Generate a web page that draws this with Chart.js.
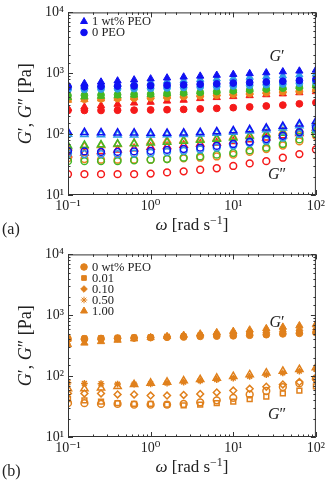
<!DOCTYPE html>
<html>
<head>
<meta charset="utf-8">
<script src="https://cdn.jsdelivr.net/npm/chart.js@4.4.1/dist/chart.umd.min.js"></script>
<style>
  html, body { margin: 0; padding: 0; background: #fff; }
  canvas { display: block; }
</style>
</head>
<body>
<canvas id="chartA" width="328" height="242"></canvas>
<canvas id="chartB" width="328" height="242"></canvas>
<script>
// angular frequency, rad/s
const omega = [0.1, 0.158, 0.251, 0.398, 0.631, 1, 1.58, 2.51, 3.98, 6.31, 10, 15.8, 25.1, 39.8, 63.1, 100];

// panel (a): G' (storage) and G'' (loss), triangles = 1 wt% PEO, circles = 0 PEO
const blueTriG1 = [640, 680, 720, 750, 780, 810, 840, 870, 900, 930, 960, 990, 1020, 1060, 1090, 1130];
const blueCirG1 = [600, 600, 610, 615, 620, 625, 635, 645, 660, 670, 690, 705, 720, 740, 760, 790];
const cyanTriG1 = [580, 610, 640, 660, 690, 710, 740, 760, 790, 810, 830, 860, 880, 910, 940, 970];
const cyanCirG1 = [540, 545, 550, 555, 560, 565, 575, 585, 595, 605, 620, 635, 650, 665, 685, 710];
const greenTriG1 = [400, 410, 420, 430, 440, 450, 465, 480, 495, 510, 525, 545, 565, 585, 605, 630];
const greenCirG1 = [430, 435, 440, 445, 450, 455, 465, 475, 485, 500, 515, 530, 550, 570, 590, 620];
const orangeTriG1 = [360, 370, 380, 390, 400, 410, 420, 430, 445, 460, 470, 485, 500, 515, 530, 545];
const orangeCirG1 = [370, 375, 380, 385, 390, 395, 405, 415, 425, 435, 450, 465, 480, 495, 510, 530];
const redTriG1 = [265, 280, 295, 310, 325, 335, 350, 362, 385, 400, 415, 430, 445, 460, 480, 500];
const redCirG1 = [245, 245, 245, 247, 248, 250, 252, 255, 260, 265, 272, 280, 290, 300, 315, 330];

const blueTriG2 = [108, 107, 106, 105, 105, 104, 104, 105, 107, 110, 114, 119, 126, 135, 147, 162];
const blueCirG2 = [53, 52, 51, 51, 52, 53, 55, 57, 60, 64, 69, 75, 83, 94, 108, 128];
const cyanTriG2 = [100, 99, 98, 97, 97, 97, 98, 99, 101, 104, 108, 113, 119, 127, 138, 150];
const cyanCirG2 = [48, 47, 47, 47, 48, 49, 51, 53, 56, 60, 65, 71, 78, 88, 101, 118];
const greenTriG2 = [64, 66, 67, 69, 70, 72, 74, 77, 80, 83, 87, 92, 98, 104, 110, 116];
const greenCirG2 = [36, 36, 36, 36, 37, 38, 39, 41, 43, 46, 49, 54, 60, 69, 82, 101];
const orangeTriG2 = [60, 63, 65, 68, 71, 75, 78, 80, 83, 86, 90, 95, 102, 110, 118, 125];
const orangeCirG2 = [40, 39, 38, 38, 38, 38, 39, 40, 41, 43, 46, 51, 57, 65, 76, 94];
const redTriG2 = [46, 49, 52, 55, 58, 61, 63, 66, 69, 72, 76, 81, 87, 94, 103, 115];
const redCirG2 = [22, 22, 22, 22, 22, 22.5, 23.5, 24.5, 26, 27.5, 30, 33, 36, 41, 47, 56];

// panel (b): PEO concentration series, all one colour
const peoLabels = ['0 wt% PEO', '0.01', '0.10', '0.50', '1.00'];
const peoG1 = [
  [410, 410, 415, 420, 425, 430, 435, 440, 450, 455, 460, 470, 480, 495, 505, 520],
  [420, 420, 425, 430, 435, 440, 445, 455, 465, 475, 485, 495, 510, 525, 540, 560],
  [390, 395, 405, 415, 425, 435, 445, 455, 470, 480, 495, 510, 525, 545, 565, 585],
  [370, 380, 395, 410, 420, 435, 450, 465, 480, 500, 520, 540, 565, 590, 615, 640],
  [330, 350, 370, 390, 410, 430, 450, 470, 495, 520, 545, 575, 605, 640, 675, 710]
];
const peoG2 = [
  [36, 36, 35, 35, 34, 34, 34, 35, 37, 40, 44, 50, 57, 66, 76, 92],
  [42, 40, 38, 36, 35, 35, 34, 33, 34, 36, 38, 42, 46, 52, 58, 68],
  [52, 52, 52, 50, 50, 48, 48, 49, 51, 54, 58, 62, 67, 73, 80, 88],
  [78, 76, 75, 74, 74, 75, 77, 80, 84, 88, 93, 99, 106, 113, 121, 130],
  [62, 62, 64, 68, 73, 77, 80, 84, 88, 93, 99, 106, 113, 121, 129, 138]
];
const peoStyles = ['circle', 'rect', 'rectRot', 'star', 'triangle'];

const serif = '"Liberation Serif", "DejaVu Serif", serif';
const ink = '#222';
const BLUE = '#1010f2', CYAN = '#2e9be8', GREEN = '#42b826', ORANGE = '#ec8420', RED = '#f51a1a';
const ORANGE_B = '#e0801c';
const sup = { '-1': '⁻¹', '0': '⁰', '1': '¹', '2': '²', '3': '³', '4': '⁴' };

const pts = ys => omega.map((x, i) => ({ x: x, y: ys[i] }));

function series(label, ys, color, style, filled) {
  const tri = style === 'triangle';
  return {
    label: label,
    data: pts(ys),
    showLine: false,
    pointStyle: style,
    pointRadius: tri ? 4.2 : 3.4,
    pointHoverRadius: tri ? 4.2 : 3.4,
    pointBackgroundColor: filled ? color : 'rgba(0,0,0,0)',
    pointBorderColor: color,
    pointBorderWidth: filled ? 1 : 1.5
  };
}

function decade(v) {
  const e = Math.log10(v);
  const r = Math.round(e);
  return Math.abs(e - r) < 1e-6 ? '10' + sup[r] : '';
}

function axes() {
  const tickFont = { family: serif, size: 14 };
  return {
    x: {
      type: 'logarithmic', min: 0.1, max: 100,
      grid: { display: false, drawTicks: false },
      border: { display: false },
      ticks: { autoSkip: false, maxRotation: 0, padding: 3, color: ink, font: tickFont, callback: decade },
      afterFit: s => { s.height = 47; }
    },
    y: {
      type: 'logarithmic', min: 10, max: 10000,
      grid: { display: false, drawTicks: false },
      border: { display: false },
      ticks: { autoSkip: false, padding: 4, color: ink, font: tickFont, callback: decade },
      afterFit: s => { s.width = 68; }
    }
  };
}

// text with italic / superscript pieces
function drawRich(ctx, x, y, segs, size) {
  const fontOf = s => (s.it ? 'italic ' : '') + (s.sup ? size * 0.7 : size) + 'px ' + serif;
  let total = 0;
  segs.forEach(s => { ctx.font = fontOf(s); total += ctx.measureText(s.t).width; });
  let cx = x - total / 2;
  ctx.textAlign = 'left';
  ctx.textBaseline = 'middle';
  segs.forEach(s => {
    ctx.font = fontOf(s);
    ctx.fillText(s.t, cx, s.sup ? y - size * 0.32 : y);
    cx += ctx.measureText(s.t).width;
  });
}

const frame = {
  id: 'frame',
  afterDraw(chart, args, opts) {
    const ctx = chart.ctx;
    const a = chart.chartArea;
    ctx.save();
    ctx.strokeStyle = '#333';
    ctx.lineWidth = 1;
    ctx.strokeRect(a.left + 0.5, a.top + 0.5, a.right - a.left - 1, a.bottom - a.top - 1);
    ['x', 'y'].forEach(id => {
      const sc = chart.scales[id];
      sc.ticks.forEach(t => {
        const e = Math.log10(t.value);
        const len = Math.abs(e - Math.round(e)) < 1e-6 ? 5 : 2.5;
        const p = Math.round(sc.getPixelForValue(t.value)) + 0.5;
        ctx.beginPath();
        if (id === 'x') {
          ctx.moveTo(p, a.bottom); ctx.lineTo(p, a.bottom - len);
          ctx.moveTo(p, a.top); ctx.lineTo(p, a.top + len);
        } else {
          ctx.moveTo(a.left, p); ctx.lineTo(a.left + len, p);
          ctx.moveTo(a.right, p); ctx.lineTo(a.right - len, p);
        }
        ctx.stroke();
      });
    });

    ctx.fillStyle = ink;
    // axis titles
    drawRich(ctx, (a.left + a.right) / 2, 226, [{ t: 'ω', it: true }, { t: ' [rad s' }, { t: '−1', sup: true }, { t: ']' }], 17);
    ctx.save();
    ctx.translate(26, (a.top + a.bottom) / 2);
    ctx.rotate(-Math.PI / 2);
    drawRich(ctx, 0, 0, [{ t: 'G', it: true }, { t: '′, ' }, { t: 'G', it: true }, { t: '″ [Pa]' }], 18);
    ctx.restore();
    // panel letter and curve annotations
    ctx.font = '16px ' + serif;
    ctx.textAlign = 'left';
    ctx.textBaseline = 'middle';
    ctx.fillText(opts.letter, 2, 230);
    drawRich(ctx, 277, opts.gy1, [{ t: 'G', it: true }, { t: '′' }], 16);
    drawRich(ctx, 277, opts.gy2, [{ t: 'G', it: true }, { t: '″' }], 16);
    // legend
    opts.legend.forEach((item, i) => {
      const y = opts.ly + i * opts.ldy;
      ctx.fillStyle = item.color;
      ctx.strokeStyle = item.color;
      Chart.helpers.drawPoint(ctx, { pointStyle: item.style, radius: item.style === 'triangle' ? 4 : 3.3, rotation: 0, borderWidth: 1 }, 84, y);
      ctx.fillStyle = ink;
      ctx.font = '12.5px ' + serif;
      ctx.textAlign = 'left';
      ctx.textBaseline = 'middle';
      ctx.fillText(item.label, 92, y + 0.5);
    });
    ctx.restore();
  }
};

const baseOptions = (frameOpts) => ({
  responsive: false,
  animation: false,
  events: [],
  layout: { padding: { left: 0, right: 12, top: 10, bottom: 0 } },
  scales: axes(),
  plugins: { legend: { display: false }, tooltip: { enabled: false }, frame: frameOpts }
});

new Chart(document.getElementById('chartA'), {
  type: 'scatter',
  data: {
    datasets: [
      series('blue 1 wt% PEO G\'', blueTriG1, BLUE, 'triangle', true),
      series('blue 0 PEO G\'', blueCirG1, BLUE, 'circle', true),
      series('blue 1 wt% PEO G\'\'', blueTriG2, BLUE, 'triangle', false),
      series('blue 0 PEO G\'\'', blueCirG2, BLUE, 'circle', false),
      series('cyan 1 wt% PEO G\'', cyanTriG1, CYAN, 'triangle', true),
      series('cyan 0 PEO G\'', cyanCirG1, CYAN, 'circle', true),
      series('cyan 1 wt% PEO G\'\'', cyanTriG2, CYAN, 'triangle', false),
      series('cyan 0 PEO G\'\'', cyanCirG2, CYAN, 'circle', false),
      series('green 1 wt% PEO G\'', greenTriG1, GREEN, 'triangle', true),
      series('green 0 PEO G\'', greenCirG1, GREEN, 'circle', true),
      series('green 1 wt% PEO G\'\'', greenTriG2, GREEN, 'triangle', false),
      series('green 0 PEO G\'\'', greenCirG2, GREEN, 'circle', false),
      series('orange 1 wt% PEO G\'', orangeTriG1, ORANGE, 'triangle', true),
      series('orange 0 PEO G\'', orangeCirG1, ORANGE, 'circle', true),
      series('orange 1 wt% PEO G\'\'', orangeTriG2, ORANGE, 'triangle', false),
      series('orange 0 PEO G\'\'', orangeCirG2, ORANGE, 'circle', false),
      series('red 1 wt% PEO G\'', redTriG1, RED, 'triangle', true),
      series('red 0 PEO G\'', redCirG1, RED, 'circle', true),
      series('red 1 wt% PEO G\'\'', redTriG2, RED, 'triangle', false),
      series('red 0 PEO G\'\'', redCirG2, RED, 'circle', false)
    ]
  },
  options: baseOptions({
    letter: '(a)', gy1: 57, gy2: 175, ly: 21.5, ldy: 11,
    legend: [
      { label: '1 wt% PEO', style: 'triangle', color: BLUE },
      { label: '0 PEO', style: 'circle', color: BLUE }
    ]
  }),
  plugins: [frame]
});

const dsB = [];
peoLabels.forEach((lab, i) => {
  dsB.push(series(lab + ' G\'', peoG1[i], ORANGE_B, peoStyles[i], true));
  dsB.push(series(lab + ' G\'\'', peoG2[i], ORANGE_B, peoStyles[i], false));
});

new Chart(document.getElementById('chartB'), {
  type: 'scatter',
  data: { datasets: dsB },
  options: baseOptions({
    letter: '(b)', gy1: 81, gy2: 173, ly: 25, ldy: 11,
    legend: peoLabels.map((lab, i) => ({ label: lab, style: peoStyles[i], color: ORANGE_B }))
  }),
  plugins: [frame]
});
</script>
</body>
</html>
